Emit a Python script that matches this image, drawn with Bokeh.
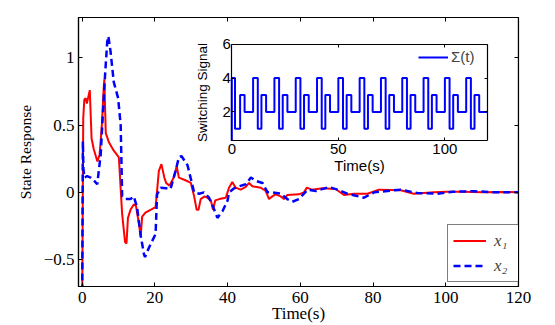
from bokeh.plotting import figure
from bokeh.models import Range1d, LinearAxis, FixedTicker, Legend, LegendItem
from bokeh.embed import file_html
from bokeh.resources import INLINE

# ---------------- data ----------------
t_x1 = [0, 0.3, 0.6, 1.0, 1.3, 1.7, 2.1, 2.6, 3.2, 4.2, 4.8, 5.4, 5.9, 6.1, 6.5, 7.4, 8.7, 10.1,
        11.0, 11.8, 12.2, 12.6, 13.3, 14.2, 14.8, 15.6, 16.1, 16.5, 17.4, 18.8, 20.2, 21.1, 21.8,
        22.6, 23.1, 24.0, 25.2, 26.0, 26.6, 28.4, 29.9, 30.8, 31.5, 32.0, 32.6, 33.7, 34.4, 35.4,
        36.0, 36.6, 37.7, 39.5, 40.4, 41.3, 42.2, 43.6, 45.0, 45.9, 46.8, 49.1, 50.5, 51.4, 52.3,
        53.2, 54.6, 55.5, 56.4, 59.6, 61.0, 61.8, 63.2, 66.1, 69.7, 72.0, 74.8, 78.5, 81.6, 87.6,
        91.2, 96.7, 100.4, 105, 110, 115, 120]
x1 = [-0.9, 0.55, 0.69, 0.70, 0.66, 0.71, 0.76, 0.40, 0.32, 0.23, 0.28, 0.49, 0.76, 0.84, 0.44,
      0.37, 0.31, 0.26, -0.16, -0.37, -0.38, -0.19, -0.13, -0.09, -0.10, -0.23, -0.33, -0.18,
      -0.15, -0.13, -0.11, 0.16, 0.21, 0.11, 0.07, 0.05, 0.11, 0.195, 0.11, 0.09, 0.07, -0.03,
      -0.13, -0.13, -0.05, -0.03, -0.04, -0.06, -0.13, -0.06, -0.05, -0.04, 0.035, 0.077, 0.035,
      0.02, 0.04, 0.07, 0.045, 0.035, 0.01, -0.05, -0.03, -0.015, -0.03, -0.05, -0.02, -0.015,
      0.0, 0.035, 0.02, 0.03, 0.025, -0.02, -0.01, -0.01, 0.02, 0.015, -0.01, 0.0, 0.005, 0.005,
      0.0, 0.003, 0.0]

t_x2 = [0, 0.2, 0.35, 0.6, 1.4, 2.3, 3.2, 4.15, 5.1, 5.7, 6.3, 6.9, 7.2, 7.8, 8.7, 9.9, 10.6,
        11.0, 11.9, 13.3, 14.2, 15.1, 16.1, 17.0, 17.3, 18.4, 20.2, 20.6, 21.6, 23.1, 24.3, 25.7,
        26.6, 27.3, 28.3, 29.0, 29.9, 30.8, 32.2, 33.5, 34.9, 35.9, 37.2, 38.6, 40.0, 40.4, 41.8,
        43.2, 45.0, 46.4, 47.8, 49.6, 51.0, 52.3, 54.6, 56.4, 57.8, 59.6, 62.0, 64.3, 67.9, 70.2,
        72.9, 77.5, 80.3, 87.6, 92.2, 97.7, 102, 108, 114, 120]
x2 = [-0.9, 0.38, 0.18, 0.11, 0.12, 0.11, 0.09, 0.06, 0.28, 0.58, 0.87, 1.12, 1.16, 1.05, 0.82,
      0.70, 0.50, -0.03, -0.05, -0.05, -0.03, -0.11, -0.32, -0.46, -0.48, -0.41, -0.31, -0.015,
      0.035, 0.03, 0.025, 0.16, 0.26, 0.27, 0.23, 0.20, 0.10, 0.0, -0.01, 0.0, -0.04, -0.10,
      -0.19, -0.14, -0.06, 0.0, 0.03, 0.045, 0.06, 0.11, 0.085, 0.07, 0.0, 0.0, -0.01, -0.05,
      -0.07, -0.05, 0.02, 0.01, 0.04, 0.02, -0.01, -0.04, 0.0, 0.02, -0.005, -0.01, 0.005, 0.008,
      0.0, 0.0]

sw_t = [0, 1.5, 3.9, 6.0,
        10, 12.2, 13.9, 16.1,
        20, 22.2, 23.9, 26.1,
        30, 32.2, 33.9, 36.1,
        40, 42.2, 43.9, 46.1,
        50, 52.2, 53.9, 56.1,
        60, 62.2, 63.9, 66.1,
        70, 72.2, 73.9, 76.1,
        80, 82.2, 83.9, 86.1,
        90, 92.2, 93.9, 96.1,
        100, 102.2, 103.9, 106.1,
        110, 112.2, 113.9, 116.1,
        120]
sw_mode = [4, 1, 3, 2,
           4, 1, 3, 2,
           4, 1, 3, 2,
           4, 1, 3, 2,
           4, 1, 3, 2,
           4, 1, 3, 2,
           4, 1, 3, 2,
           4, 1, 3, 2,
           4, 1, 3, 2,
           4, 1, 3, 2,
           4, 1, 3, 2,
           4, 1, 3, 2,
           2]

x_ticks = [0, 20, 40, 60, 80, 100, 120]
y_ticks = [-0.5, 0, 0.5, 1]
y_tick_labels = ["\u22120.5", "0", "0.5", "1"]
inset_x_ticks = [0, 50, 100]
inset_y_ticks = [2, 4, 6]

# ---------------- layout constants ----------------
W, H = 547, 325
BL, BR, BT, BB = 78, 29, 17, 38
X0, X1 = -1, 120
Y0, Y1 = -0.7, 1.3
IX0, IX1 = 0, 120
IY0, IY1 = 0.3, 6

# frame in figure px
FL, FR, FT, FB = BL, W - BR, BT, H - BB
# inset box in figure px
IL, IR, IT, IB = 231.3, 487.0, 43.7, 140.7
sx = (IR - IL) / (IX1 - IX0)
sy = (IB - IT) / (IY1 - IY0)
ix_start = IX0 - (IL - FL) / sx
ix_end = IX1 + (FR - IR) / sx
iy_end = IY1 + (IT - FT) / sy
iy_start = IY0 - (FB - IB) / sy

SERIF = "Liberation Serif"
SANS = "Liberation Sans"

p = figure(width=W, height=H, output_backend="svg", toolbar_location=None,
           x_range=Range1d(X0, X1), y_range=Range1d(Y0, Y1),
           min_border_left=BL, min_border_right=BR, min_border_top=BT, min_border_bottom=BB,
           x_axis_label="Time(s)", y_axis_label="State Response")
p.grid.visible = False
p.outline_line_color = "black"
p.outline_line_width = 1.2
p.background_fill_color = "white"
p.border_fill_color = "white"
p.extra_x_ranges = {"ix": Range1d(ix_start, ix_end)}
p.extra_y_ranges = {"iy": Range1d(iy_start, iy_end)}


def style_axis(ax, font, tick_size, label_size, tick_len=4):
    ax.axis_line_color = "black"
    ax.axis_line_width = 1.2
    ax.major_tick_line_color = "black"
    ax.major_tick_line_width = 1
    ax.major_tick_in = tick_len
    ax.major_tick_out = 0
    ax.minor_tick_line_color = None
    ax.major_label_text_font = font
    ax.major_label_text_font_size = tick_size
    ax.major_label_text_color = "black"
    ax.axis_label_text_font = font
    ax.axis_label_text_font_size = label_size
    ax.axis_label_text_font_style = "normal"
    ax.axis_label_text_color = "black"


xa = p.xaxis[0]
xa.ticker = FixedTicker(ticks=x_ticks)
style_axis(xa, SERIF, "17px", "17px")
xa.major_label_standoff = 5
xa.axis_label_standoff = -2

ya = p.yaxis[0]
ya.ticker = FixedTicker(ticks=y_ticks)
ya.major_label_overrides = dict(zip(y_ticks, y_tick_labels))
style_axis(ya, SERIF, "17px", "15.5px")
ya.major_label_standoff = 4
ya.axis_label_standoff = 7

# box ticks of main axes
top_ax = LinearAxis(fixed_location=Y1, ticker=FixedTicker(ticks=x_ticks),
                    major_label_overrides={t: "" for t in x_ticks})
style_axis(top_ax, SERIF, "16px", "16px")
p.add_layout(top_ax, "above")
right_ax = LinearAxis(fixed_location=X1, ticker=FixedTicker(ticks=y_ticks),
                      major_label_overrides={t: "" for t in y_ticks})
style_axis(right_ax, SERIF, "16px", "16px")
p.add_layout(right_ax, "right")

# main curves
r1 = p.line(t_x1, x1, line_color="#ff0000", line_width=2)
r2 = p.line(t_x2, x2, line_color="#0000ff", line_width=2.5, line_dash="7 4")

main_leg = Legend(items=[LegendItem(label="x\u2081", renderers=[r1]),
                         LegendItem(label="x\u2082", renderers=[r2])],
                  location=(369, 4), padding=5, spacing=4, glyph_width=33, glyph_height=21,
                  label_height=21, label_standoff=8,
                  label_text_font=SERIF, label_text_font_style="italic",
                  label_text_font_size="17px", border_line_color="black",
                  border_line_width=1.2, background_fill_color="white", background_fill_alpha=1)
p.add_layout(main_leg)

# ---------------- inset ----------------
ib = LinearAxis(x_range_name="ix", y_range_name="iy", fixed_location=IY0, bounds=(IX0, IX1),
                ticker=FixedTicker(ticks=inset_x_ticks), axis_label="Time(s)")
style_axis(ib, SANS, "15px", "15px", 3)
ib.major_label_standoff = 3
ib.axis_label_standoff = 0
p.add_layout(ib, "below")

il = LinearAxis(x_range_name="ix", y_range_name="iy", fixed_location=IX0, bounds=(IY0, IY1),
                ticker=FixedTicker(ticks=inset_y_ticks), axis_label="Switching Signal")
style_axis(il, SANS, "15px", "13.5px", 3)
il.major_label_standoff = 1
il.axis_label_standoff = 9
p.add_layout(il, "left")

it = LinearAxis(x_range_name="ix", y_range_name="iy", fixed_location=IY1, bounds=(IX0, IX1),
                ticker=FixedTicker(ticks=inset_x_ticks),
                major_label_overrides={t: "" for t in inset_x_ticks})
style_axis(it, SANS, "15px", "15px", 3)
p.add_layout(it, "above")

ir = LinearAxis(x_range_name="ix", y_range_name="iy", fixed_location=IX1, bounds=(IY0, IY1),
                ticker=FixedTicker(ticks=inset_y_ticks),
                major_label_overrides={t: "" for t in inset_y_ticks})
style_axis(ir, SANS, "15px", "15px", 3)
p.add_layout(ir, "right")

rs = p.step([IX0] + sw_t, [IY0] + sw_mode, mode="after", x_range_name="ix", y_range_name="iy",
            line_color="#0000ff", line_width=2)

inset_leg = Legend(items=[LegendItem(label="\u03a3(t)", renderers=[rs])],
                   location=(340, 221), padding=0, spacing=0, glyph_width=30, glyph_height=16,
                   label_height=16, label_standoff=3,
                   label_text_font=SANS, label_text_font_size="15px",
                   border_line_color=None, background_fill_alpha=0)
p.add_layout(inset_leg)

open("out.html", "w").write(file_html(p, INLINE))
